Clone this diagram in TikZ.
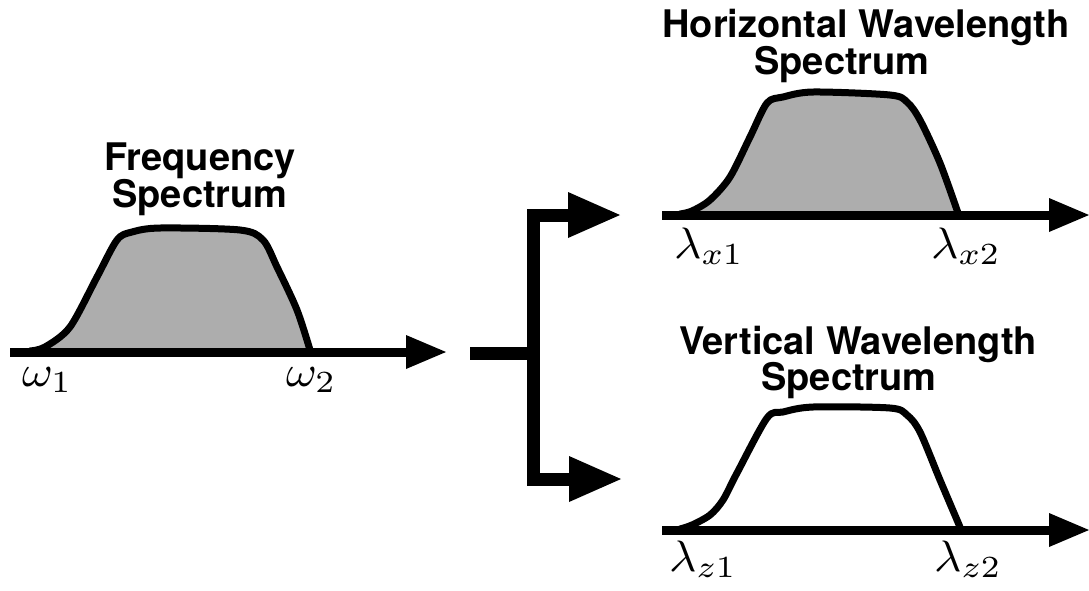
\documentclass[tikz,border=0pt]{standalone}
\usepackage{graphicx}
\usepackage{fontspec}
\setsansfont{TeX Gyre Heros}
\usetikzlibrary{arrows.meta}
\newcommand{\biglab}[1]{\scalebox{4.7}[4.4]{$#1$}}
\tikzset{
  axis/.style={line width=9pt, line cap=butt, -{Triangle[length=40pt 0 0,width=34pt 0 0,line width=0pt 0 0]}},
  curve/.style={line width=7pt, line join=round, line cap=round},
  shade/.style={fill=black!32},
  branch/.style={line width=13pt, line join=miter, line cap=butt},
  brancharrow/.style={branch, -{Triangle[length=52pt 0 0,width=46pt 0 0,line width=0pt 0 0]}},
  title/.style={font=\fontsize{38}{38}\selectfont\sffamily\bfseries, anchor=base, inner sep=0pt},
  lab/.style={anchor=base west, inner sep=0pt},
}
\begin{document}
\begin{tikzpicture}[x=1pt,y=-1pt]
\useasboundingbox (0,0) rectangle (1089,590);

% ---------- Frequency spectrum ----------
\fill[shade] plot[smooth,tension=0.5] coordinates {(38,350) (70,327) (97,277) (117,240) (132,232) (160,228) (240,230) (263,240) (277,267) (297,310) (310,350)} -- cycle;
\draw[curve] plot[smooth,tension=0.5] coordinates {(30,351) (45,347) (70,327) (97,277) (117,240) (132,232) (160,228) (240,230) (263,240) (277,267) (297,310) (310,350)};
\coordinate (fa0) at (10,352);
\coordinate (fa1) at (446,352);
\draw[axis] (fa0) -- (fa1);
\node[title] (ft1) at (200,170) {Frequency};
\node[title] (ft2) at (200,207) {Spectrum};
\node[lab] (w1) at (22,386) {\biglab{\omega_1}};
\node[lab] (w2) at (286,386) {\biglab{\omega_2}};

% ---------- Branch ----------
\coordinate (bs) at (470,353);
\coordinate (bj) at (533,353);
\coordinate (bt) at (620,215);
\coordinate (bb) at (621,479);
\draw[branch] (bs) -- (bj);
\draw[brancharrow] (bj) |- (bt);
\draw[brancharrow] (bj) |- (bb);

% ---------- Horizontal wavelength spectrum ----------
\fill[shade] plot[smooth,tension=0.5] coordinates {(688,213) (710,200) (730,177) (750,137) (767,103) (783,97) (813,92) (890,95) (907,102) (920,120) (940,163) (958,213)} -- cycle;
\draw[curve] plot[smooth,tension=0.5] coordinates {(680,214) (692,211) (710,200) (730,177) (750,137) (767,103) (783,97) (813,92) (890,95) (907,102) (920,120) (940,163) (958,213)};
\coordinate (ha0) at (662,215);
\coordinate (ha1) at (1089,215);
\draw[axis] (ha0) -- (ha1);
\node[title] (ht1) at (866,37) {Horizontal Wavelength};
\node[title] (ht2) at (842,74) {Spectrum};
\node[lab] (lx1) at (674,258) {\biglab{\lambda_{x1}}};
\node[lab] (lx2) at (931,258) {\biglab{\lambda_{x2}}};

% ---------- Vertical wavelength spectrum ----------
\draw[curve] plot[smooth,tension=0.5] coordinates {(680,529) (692,525) (710,515) (723,500) (737,473) (767,418) (783,412) (813,407) (890,408) (907,415) (920,432) (940,480) (960,527)};
\coordinate (va0) at (662,530);
\coordinate (va1) at (1089,530);
\draw[axis] (va0) -- (va1);
\node[title] (vt1) at (858,354) {Vertical Wavelength};
\node[title] (vt2) at (849,390) {Spectrum};
\node[lab] (lz1) at (669,571) {\biglab{\lambda_{z1}}};
\node[lab] (lz2) at (934,571) {\biglab{\lambda_{z2}}};
\end{tikzpicture}
\end{document}
